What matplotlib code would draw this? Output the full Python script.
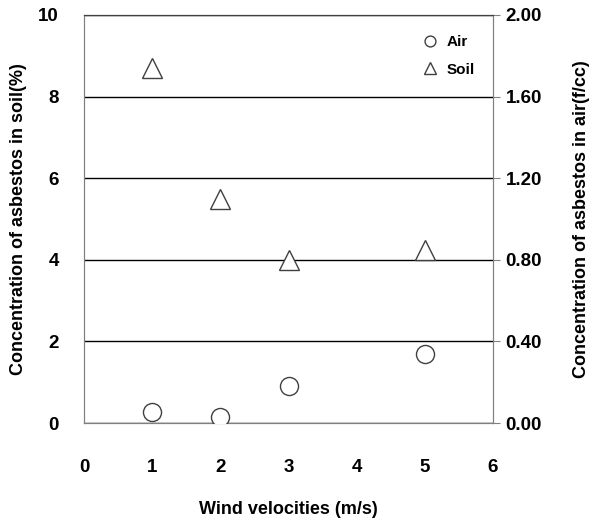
import matplotlib.pyplot as plt

plt.rcParams['font.family'] = ['Liberation Sans', 'DejaVu Sans']
plt.rcParams['font.weight'] = 'bold'

wind = [1, 2, 3, 5]
soil = [8.7, 5.5, 4.0, 4.25]
air = [0.055, 0.03, 0.18, 0.34]

fig = plt.figure(figsize=(5.89, 5.24), dpi=100)
ax = fig.add_axes([0.1426, 0.1927, 0.6945, 0.7787])
ax2 = ax.twinx()

# soil on the left axis
ax.plot(wind, soil, linestyle='none', marker='^', markersize=14,
        markerfacecolor='white', markeredgecolor='#404040', markeredgewidth=1.0,
        label='Soil', zorder=3)
ax.set_xlim(0, 6)
ax.set_ylim(0, 10)
ax.set_xticks(range(7))
ax.set_yticks([0, 2, 4, 6, 8, 10])
ax.yaxis.grid(True, color='black', linewidth=1.0)
ax.set_axisbelow(True)
ax.tick_params(axis='x', length=0, pad=26, labelsize=13.5)
ax.tick_params(axis='y', length=0, pad=18, labelsize=13.5)
ax.set_xlabel('Wind velocities (m/s)', fontsize=13, fontweight='bold', labelpad=18)
ax.set_ylabel('Concentration of asbestos in soil(%)', fontsize=13, fontweight='bold', labelpad=8)

# air on the right axis
ax2.plot(wind, air, linestyle='none', marker='o', markersize=13,
         markerfacecolor='white', markeredgecolor='#404040', markeredgewidth=1.0,
         label='Air', zorder=3)
ax2.set_ylim(0, 2.0)
ax2.set_yticks([0, 0.4, 0.8, 1.2, 1.6, 2.0])
ax2.set_yticklabels(['0.00', '0.40', '0.80', '1.20', '1.60', '2.00'])
ax2.tick_params(axis='y', length=5, color='#808080', pad=4, labelsize=13.5)
ax2.set_ylabel('Concentration of asbestos in air(f/cc)', fontsize=13, fontweight='bold', labelpad=22)

for a in (ax, ax2):
    for s in a.spines.values():
        s.set_color('#808080')
    a.spines['top'].set_color('#404040')

h1, l1 = ax2.get_legend_handles_labels()
h2, l2 = ax.get_legend_handles_labels()
ax2.legend(h1 + h2, l1 + l2, loc='upper right', frameon=False,
           bbox_to_anchor=(0.99, 0.985), handletextpad=0.1, markerscale=0.6,
           labelspacing=0.9, prop={'weight': 'bold', 'size': 11})

fig.savefig('out.png', dpi=100)
